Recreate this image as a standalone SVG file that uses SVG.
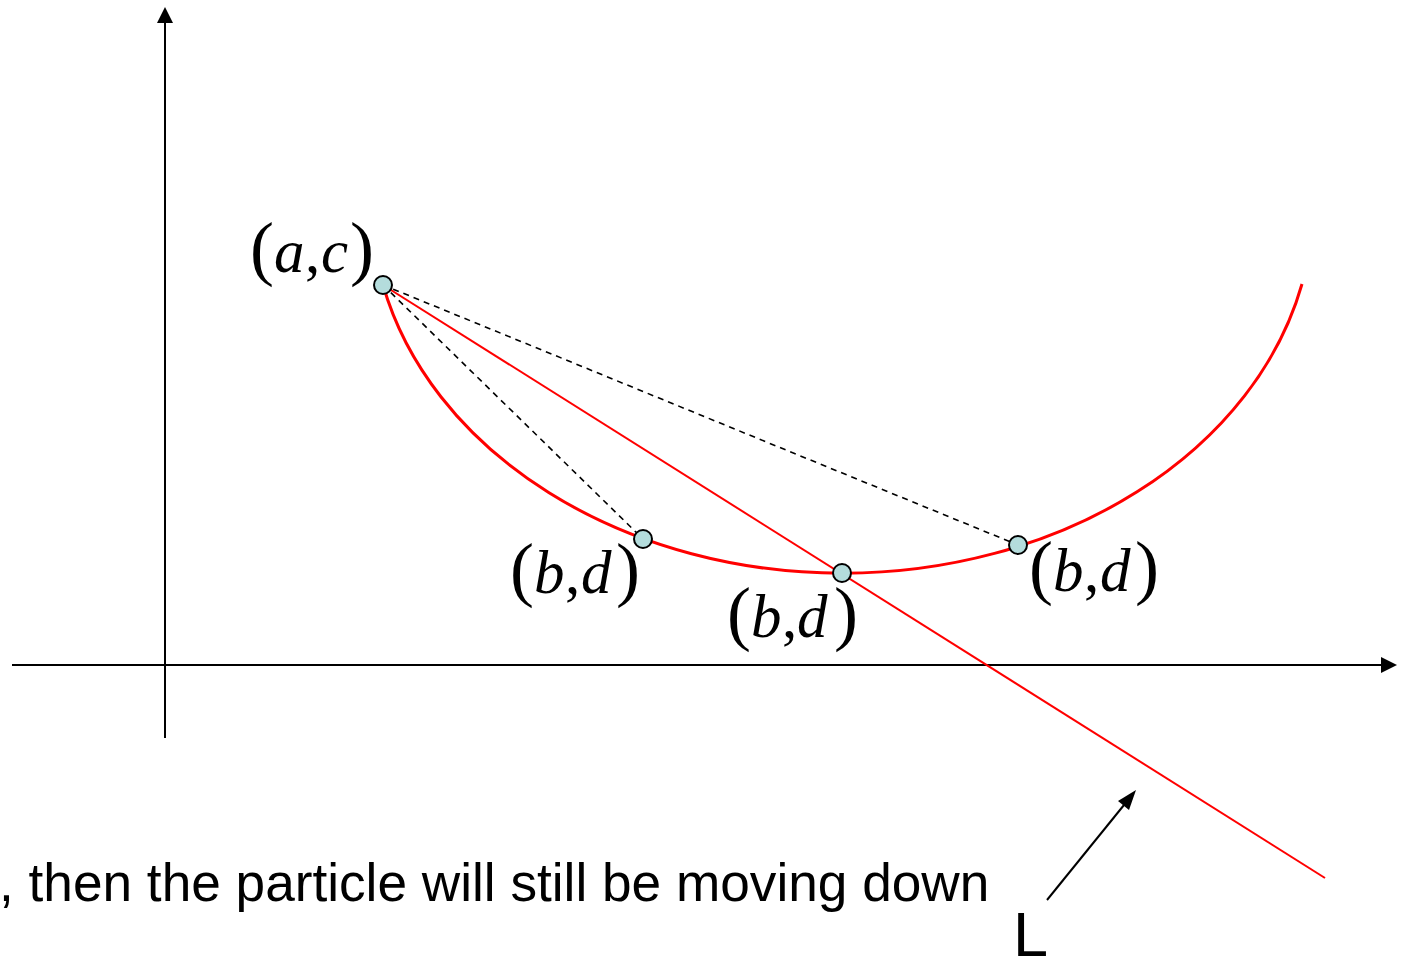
<svg xmlns="http://www.w3.org/2000/svg" width="1408" height="962" viewBox="0 0 1408 962">
<style>
.axis{stroke:#000;stroke-width:2;fill:none}
.curve{stroke:#ff0000;stroke-width:3;fill:none}
.line{stroke:#ff0000;stroke-width:2;fill:none}
.dash{stroke:#000;stroke-width:1.6;stroke-dasharray:6 5;fill:none}
.pt{fill:#b4dcdc;stroke:#000;stroke-width:2}
.math{font-family:"Liberation Serif","Times New Roman",serif;font-size:61px;fill:#000}
.it{font-style:italic}
.par{font-size:72px}
.sans{font-family:"Liberation Sans",Arial,sans-serif;fill:#000}
</style>
<rect width="1408" height="962" fill="#fff"/>
<g id="axes">
<line class="axis" x1="165" y1="738" x2="165" y2="20"/>
<polygon points="165,7 157,23 173,23" fill="#000"/>
<line class="axis" x1="12" y1="665" x2="1384" y2="665"/>
<polygon points="1397,665 1381,657 1381,673" fill="#000"/>
</g>
<g id="connectors">
<path id="curve" class="curve" d="M383,285 A471,370 0 0 0 1302,284"/>
<line id="lineL" class="line" x1="383" y1="285" x2="1325" y2="878"/>
<line class="dash" x1="383" y1="285" x2="643" y2="539"/>
<line class="dash" x1="383" y1="285" x2="1018" y2="545"/>
<line id="arrowL" stroke="#000" stroke-width="2" x1="1047" y1="900" x2="1124" y2="805"/>
<polygon points="1136,790 1118,801 1129,810" fill="#000"/>
</g>
<g id="node-ac">
<circle class="pt" cx="383" cy="285" r="9"/>
<text class="math" y="272"><tspan x="250" class="par">(</tspan><tspan x="274" class="it">a</tspan><tspan x="305">,</tspan><tspan x="321" class="it">c</tspan><tspan x="350" class="par">)</tspan></text>
</g>
<g id="node-bd1">
<circle class="pt" cx="643" cy="539" r="9"/>
<text class="math" y="593"><tspan x="510" class="par">(</tspan><tspan x="534" class="it">b</tspan><tspan x="565">,</tspan><tspan x="581" class="it">d</tspan><tspan x="616" class="par">)</tspan></text>
</g>
<g id="node-bd2">
<circle class="pt" cx="842" cy="573" r="9"/>
<text class="math" y="637"><tspan x="727" class="par">(</tspan><tspan x="751" class="it">b</tspan><tspan x="782">,</tspan><tspan x="797" class="it">d</tspan><tspan x="834" class="par">)</tspan></text>
</g>
<g id="node-bd3">
<circle class="pt" cx="1018" cy="545" r="9"/>
<text class="math" y="591"><tspan x="1029" class="par">(</tspan><tspan x="1053" class="it">b</tspan><tspan x="1084">,</tspan><tspan x="1100" class="it">d</tspan><tspan x="1135" class="par">)</tspan></text>
</g>
<g id="caption">
<text class="sans" x="-1" y="901" font-size="53.2">, then the particle will still be moving down</text>
</g>
<g id="label-L">
<text class="sans" x="1013" y="956" font-size="63">L</text>
</g>
</svg>
